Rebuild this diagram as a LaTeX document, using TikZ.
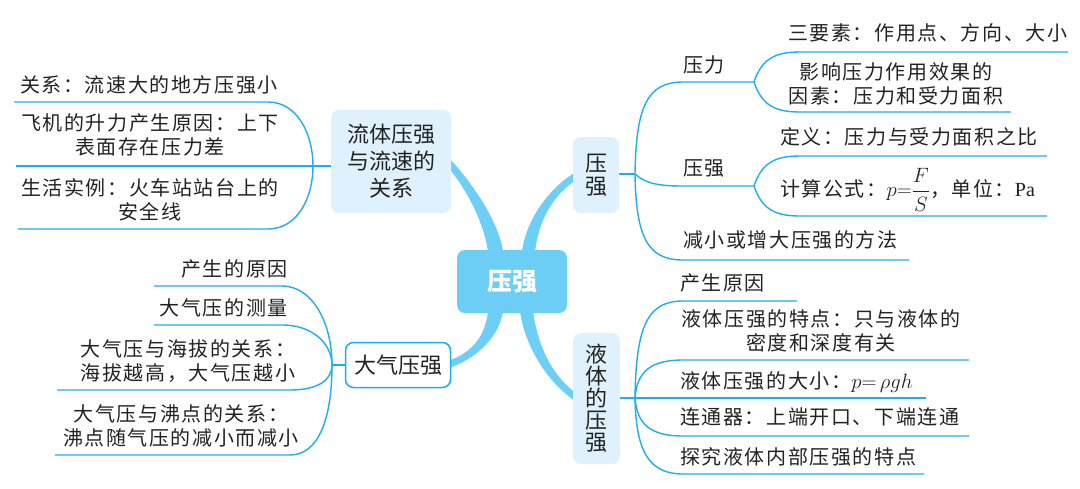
\documentclass[tikz,border=0pt]{standalone}
\usepackage{fontspec}
\usepackage{amsmath}
\setmainfont{Liberation Serif}
\newfontfamily\leaffont[LetterSpace=8]{Noto Sans CJK SC}
\newfontfamily\topicfont{Noto Sans CJK SC}
\usetikzlibrary{calc,backgrounds}
\definecolor{thinblue}{RGB}{30,175,235}
\definecolor{thickblue}{RGB}{110,207,246}
\definecolor{lightbg}{RGB}{222,241,252}
\definecolor{rootbg}{RGB}{108,205,245}
\definecolor{txt}{RGB}{34,34,34}
\newcommand\mytaper[6]{\fill[thickblue] ($(#1)!#5!90:(#2)$) .. controls ($(#2)!#5!-90:(#1)$) and ($(#3)!#6!90:(#4)$) .. ($(#4)!#6!-90:(#3)$) -- ($(#4)!#6!90:(#3)$) .. controls ($(#3)!#6!-90:(#4)$) and ($(#2)!#5!90:(#1)$) .. ($(#1)!#5!-90:(#2)$) -- cycle;}
\begin{document}
\begin{tikzpicture}[x=1pt,y=-1pt,
  leaf/.style={font=\leaffont\fontsize{20}{24}\selectfont, text=txt, inner sep=0pt, align=center},
  topic/.style={font=\topicfont\fontsize{22}{27}\selectfont, text=txt, inner sep=0pt, rounded corners=8pt, fill=lightbg, align=center},
  thin/.style={draw=thinblue, line width=1.4pt}]
\useasboundingbox (0,0) rectangle (1080,488);

% topic nodes
\node[topic, minimum width=120pt, minimum height=103pt] (fluid) at (391,161.5) {流体压强\\与流速的\\关系};
\node[topic, font=\topicfont\fontsize{22}{23}\selectfont, minimum width=46pt, minimum height=76pt] (pq) at (596,175) {压\\强};
\node[topic, font=\topicfont\fontsize{22}{22}\selectfont, minimum width=47pt, minimum height=131pt] (liq) at (596.5,398.5) {液\\体\\的\\压\\强};
\node[topic, fill=white, draw=thinblue, line width=1.5pt, minimum width=105pt, minimum height=45pt] (atm) at (398,365) {大气压强};
\node[topic, fill=rootbg, text=white, font=\topicfont\bfseries\fontsize{25}{30}\selectfont, minimum width=110pt, minimum height=63pt] (root) at (512,281.5) {压强};

% coordinates
\coordinate (j1) at (313,166);
\coordinate (j2) at (332,365);
\coordinate (j3) at (635,174);
\coordinate (j4) at (754,82);
\coordinate (j5) at (754,186);
\coordinate (j6) at (635,398);
\coordinate (a1s) at (14,102); \coordinate (a1e) at (268,102);
\coordinate (a2s) at (16,166);
\coordinate (a3s) at (18,229); \coordinate (a3e) at (268,229);
\coordinate (b1s) at (154,286); \coordinate (b1e) at (282,286);
\coordinate (b2s) at (154,325); \coordinate (b2e) at (282,325);
\coordinate (b3s) at (57,390); \coordinate (b3e) at (290,390);
\coordinate (b4s) at (55,455); \coordinate (b4e) at (290,455);
\coordinate (c1s) at (683,82);
\coordinate (c2s) at (683,186);
\coordinate (c3s) at (683,260); \coordinate (c3e) at (909,260);
\coordinate (d1s) at (800,52); \coordinate (d1e) at (1068,52);
\coordinate (d2s) at (800,112); \coordinate (d2e) at (1011,112);
\coordinate (e1s) at (800,156); \coordinate (e1e) at (1047,156);
\coordinate (e2s) at (800,216); \coordinate (e2e) at (1047,216);
\coordinate (f1s) at (683,301); \coordinate (f1e) at (797,301);
\coordinate (f2s) at (683,360); \coordinate (f2e) at (969,360);
\coordinate (f3e) at (926,398);
\coordinate (f4s) at (683,436); \coordinate (f4e) at (969,436);
\coordinate (f5s) at (683,474); \coordinate (f5e) at (924,474);
% thick connector control points
\coordinate (k1a) at (496,256); \coordinate (k1b) at (493,222); \coordinate (k1c) at (466,181); \coordinate (k1d) at (447,161);
\coordinate (k2a) at (528,256); \coordinate (k2b) at (531,222); \coordinate (k2c) at (550,192); \coordinate (k2d) at (576,176);
\coordinate (k3a) at (496,307); \coordinate (k3b) at (494,335); \coordinate (k3c) at (475,356); \coordinate (k3d) at (447,365);
\coordinate (k4a) at (526,307); \coordinate (k4b) at (530,345); \coordinate (k4c) at (550,380); \coordinate (k4d) at (577,398);

\begin{pgfonlayer}{background}
\mytaper{k1a}{k1b}{k1c}{k1d}{7.5pt}{3.5pt}
\mytaper{k2a}{k2b}{k2c}{k2d}{6.5pt}{3.5pt}
\mytaper{k3a}{k3b}{k3c}{k3d}{7.5pt}{3.5pt}
\mytaper{k4a}{k4b}{k4c}{k4d}{6.5pt}{3.5pt}
% left top
\draw[thin] (a1s) -- (a1e) .. controls (298,102) and (313,135) .. (j1);
\draw[thin] (a2s) -- (fluid.west |- j1);
\draw[thin] (a3s) -- (a3e) .. controls (298,229) and (313,197) .. (j1);
% left bottom
\draw[thin] (j2) -- (atm.west |- j2);
\draw[thin] (b1s) -- (b1e) .. controls (312,286) and (332,322) .. (j2);
\draw[thin] (b2s) -- (b2e) .. controls (314,325) and (332,345) .. (j2);
\draw[thin] (b3s) -- (b3e) .. controls (318,390) and (332,380) .. (j2);
\draw[thin] (b4s) -- (b4e) .. controls (318,455) and (332,420) .. (j2);
% right top
\draw[thin] (pq.east |- j3) -- (j3);
\draw[thin] (j3) .. controls (636,105) and (648,82) .. (c1s) -- (j4);
\draw[thin] (j3) .. controls (646,184) and (660,186) .. (c2s) -- (j5);
\draw[thin] (j3) .. controls (636,238) and (648,260) .. (c3s) -- (c3e);
\draw[thin] (j4) .. controls (762,58) and (776,52) .. (d1s) -- (d1e);
\draw[thin] (j4) .. controls (762,106) and (776,112) .. (d2s) -- (d2e);
\draw[thin] (j5) .. controls (762,162) and (776,156) .. (e1s) -- (e1e);
\draw[thin] (j5) .. controls (762,210) and (776,216) .. (e2s) -- (e2e);
% right bottom
\draw[thin] (liq.east |- j6) -- (j6) -- (f3e);
\draw[thin] (j6) .. controls (636,325) and (648,301) .. (f1s) -- (f1e);
\draw[thin] (j6) .. controls (637,372) and (650,360) .. (f2s) -- (f2e);
\draw[thin] (j6) .. controls (637,424) and (650,436) .. (f4s) -- (f4e);
\draw[thin] (j6) .. controls (636,450) and (648,474) .. (f5s) -- (f5e);
\end{pgfonlayer}

% leaf texts
\node[leaf, anchor=west] (t1) at (20,85) {关系：流速大的地方压强小};
\node[leaf] (t2) at (150,135) {飞机的升力产生原因：上下\\表面存在压力差};
\node[leaf] (t3) at (150,200) {生活实例：火车站站台上的\\安全线};
\node[leaf, anchor=east] (t4) at (288,269) {产生的原因};
\node[leaf, anchor=east] (t5) at (288,308) {大气压的测量};
\node[leaf] (t6) at (188,361.5) {大气压与海拔的关系：\\海拔越高，大气压越小};
\node[leaf] (t7) at (181,426) {大气压与沸点的关系：\\沸点随气压的减小而减小};
\node[leaf, anchor=west] (t8) at (683,65) {压力};
\node[leaf, anchor=west] (t9) at (683,168) {压强};
\node[leaf, anchor=west] (t10) at (683,240) {减小或增大压强的方法};
\node[leaf, anchor=west] (t11) at (788,33) {三要素：作用点、方向、大小};
\node[leaf] (t12) at (896,83.5) {影响压力作用效果的\\因素：压力和受力面积};
\node[leaf, anchor=west] (t13) at (780,137) {定义：压力与受力面积之比};
\node[leaf, anchor=west] (t14) at (780,190) {计算公式：$p{=}\dfrac{F}{S}$，单位：{\rmfamily Pa}};
\node[leaf, anchor=west] (t15) at (680,283) {产生原因};
\node[leaf] (t16) at (821,331) {液体压强的特点：只与液体的\\密度和深度有关};
\node[leaf, anchor=west] (t17) at (680,382) {液体压强的大小：$p{=}\,\rho gh$};
\node[leaf, anchor=west] (t18) at (680,417) {连通器：上端开口、下端连通};
\node[leaf, anchor=west] (t19) at (680,457) {探究液体内部压强的特点};
\end{tikzpicture}
\end{document}
